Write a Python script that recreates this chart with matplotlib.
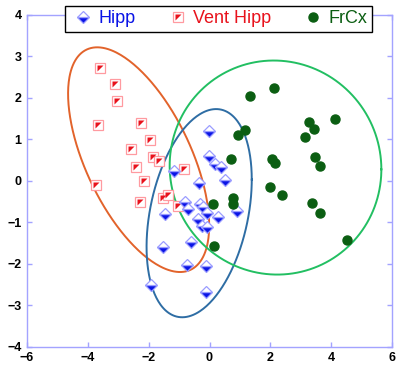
import matplotlib.pyplot as plt
from matplotlib.legend_handler import HandlerTuple
from matplotlib.path import Path
import numpy as np

plt.rcParams["font.family"] = ["Liberation Sans", "DejaVu Sans"]

# -----------------------------------------------------------------------------
# Data.
# -----------------------------------------------------------------------------
hipp_x = [-0.02, -0.02, 0.18, 0.38, -1.17, -0.35, 0.51, -0.81, -0.31, -0.71,
          -1.46, -0.08, 0.28, -0.38, -0.25, -0.08, 0.90, -1.53, -0.61, -0.74,
          -0.12, -1.92, -0.12, -0.20]
hipp_y = [1.20, 0.60, 0.40, 0.33, 0.24, -0.05, 0.02, -0.51, -0.56, -0.68,
          -0.80, -0.78, -0.87, -0.92, -1.09, -1.11, -0.73, -1.59, -1.48, -2.03,
          -2.05, -2.51, -2.68, -0.62]

vent_x = [-3.60, -3.10, -3.04, -3.67, -2.25, -1.96, -2.58, -1.86, -1.66,
          -2.42, -2.16, -3.73, -2.29, -0.84, -1.53, -1.36, -1.04]
vent_y = [2.71, 2.33, 1.92, 1.34, 1.39, 0.98, 0.77, 0.57, 0.48,
          0.33, 0.00, -0.10, -0.51, 0.28, -0.41, -0.34, -0.61]

frcx_x = [1.33, 2.12, 1.17, 0.94, 3.27, 4.13, 3.44, 3.14, 0.71, 2.06, 2.15,
          3.47, 3.63, 1.99, 2.38, 0.77, 0.77, 0.12, 3.37, 3.63, 4.52, 0.15]
frcx_y = [2.04, 2.23, 1.22, 1.10, 1.41, 1.49, 1.24, 1.05, 0.53, 0.53, 0.43,
          0.58, 0.36, -0.15, -0.34, -0.41, -0.56, -0.56, -0.54, -0.77, -1.43,
          -1.57]

# ellipses: centre, then (sxx, sxy, syy) shape matrix
vent_centre = (-2.33, 0.51)
vent_shape = (5.38, -3.69, 7.34)
hipp_centre = (-0.34, -0.78)
hipp_shape = (2.99, 1.40, 6.30)
frcx_centre = (2.17, 0.32)
frcx_shape = (12.11, -0.15, 6.66)

BLUE = "#0a14e6"
RED = "#e8121c"
GREEN = "#0b5e12"


def ellipse_xy(centre, shape, n=300):
    sxx, sxy, syy = shape
    L = np.linalg.cholesky(np.array([[sxx, sxy], [sxy, syy]]))
    t = np.linspace(0, 2 * np.pi, n)
    pts = L @ np.vstack([np.cos(t), np.sin(t)])
    return centre[0] + pts[0], centre[1] + pts[1]


fig = plt.figure(figsize=(4.0, 3.67), dpi=100)
ax = fig.add_axes([0.0675, 0.0553, 0.9125, 0.904])

# ellipses
for centre, shape, col in [(vent_centre, vent_shape, "#e2632b"),
                           (hipp_centre, hipp_shape, "#2e6da4"),
                           (frcx_centre, frcx_shape, "#22bf62")]:
    ex, ey = ellipse_xy(centre, shape)
    ax.plot(ex, ey, color=col, lw=1.4, zorder=2)

# Vent Hipp: white square with red upper-left triangle
tri = Path([(-1, -1), (-1, 1), (1, 1), (-1, -1)], closed=True)
vent_sq, = ax.plot(vent_x, vent_y, ls="none", marker="s", ms=6.6,
                   mfc="white", mec="#ff9aa0", mew=0.9, zorder=3)
vent_tri, = ax.plot(vent_x, vent_y, ls="none", marker=tri, ms=5.0,
                    mfc=RED, mec="none", zorder=3)

# Hipp: half-filled diamonds
hipp, = ax.plot(hipp_x, hipp_y, ls="none", marker="D", ms=5.9,
                fillstyle="bottom", mfc=BLUE, mfcalt="white",
                mec="#9a9cff", mew=0.9, zorder=4)

# FrCx: dark green dots
frcx, = ax.plot(frcx_x, frcx_y, ls="none", marker="o", ms=6.5,
                mfc=GREEN, mec=GREEN, zorder=4)

ax.set_xlim(-6, 6)
ax.set_ylim(-4, 4)
ax.set_xticks(np.arange(-6, 7, 2))
ax.set_yticks(np.arange(-4, 5, 1))
for s in ax.spines.values():
    s.set_color("#a3a3ff")
    s.set_linewidth(1.0)
ax.tick_params(direction="in", length=3.5, width=1, color="#a3a3ff",
               top=True, right=True, labelsize=9, pad=4)
for lab in ax.get_xticklabels() + ax.get_yticklabels():
    lab.set_fontweight("bold")

leg = ax.legend([hipp, (vent_sq, vent_tri), frcx],
                ["Hipp", "Vent Hipp", "FrCx"],
                handler_map={tuple: HandlerTuple(ndivide=1, pad=0)},
                ncol=3, loc="center", bbox_to_anchor=(0.525, 0.988),
                fontsize=13, frameon=True, fancybox=False, framealpha=1,
                edgecolor="black", handlelength=1.5, handletextpad=0.12,
                columnspacing=1.55, borderpad=0.26, borderaxespad=0)
leg.get_frame().set_linewidth(1.0)
for txt, col in zip(leg.get_texts(), [BLUE, RED, GREEN]):
    txt.set_color(col)

fig.savefig("out.png", dpi=100)
